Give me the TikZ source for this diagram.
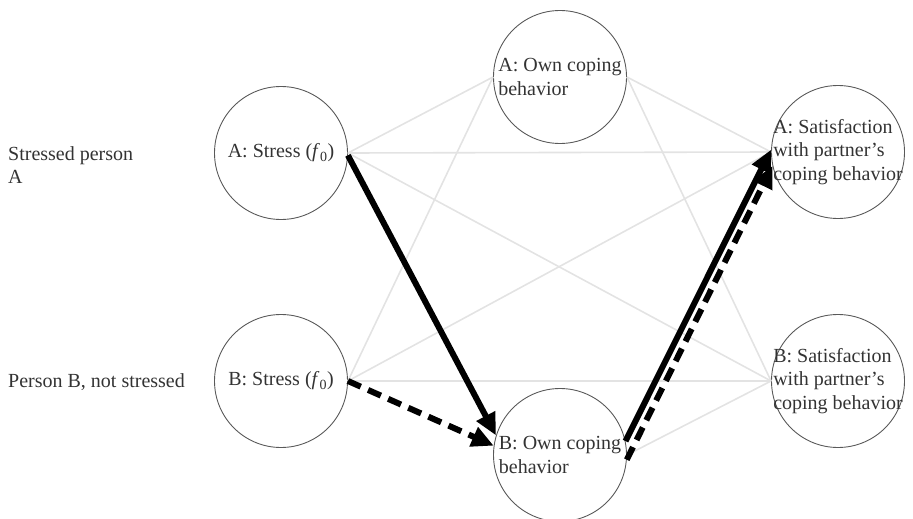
\documentclass[tikz,border=0pt]{standalone}
\usepackage{fontspec}
\setmainfont{Liberation Serif}
\usetikzlibrary{arrows.meta}
\begin{document}
\begin{tikzpicture}[x=1pt,y=-1pt,
  circ/.style={circle,draw=black!65,line width=0.9pt,minimum size=133pt,inner sep=0pt},
  txt/.style={font=\fontsize{20}{23.5}\selectfont,text=black!80,align=left,inner sep=0pt},
  faint/.style={draw=black!11,line width=1.6pt},
  strong/.style={draw=black,line width=6pt,-{Triangle[length=22pt,width=20pt]}},
  strongdash/.style={strong,dash pattern=on 14pt off 8pt}]
\useasboundingbox (0,0) rectangle (913,519);
% circles
\node[circ] (as) at (281,153) {};
\node[circ] (bs) at (281,381) {};
\node[circ] (ao) at (560,77) {};
\node[circ] (bo) at (560,455) {};
\node[circ] (asat) at (838,152) {};
\node[circ] (bsat) at (838,381) {};
% texts
\node[txt] (ast) at (as) {A: Stress (\textit{f}\textsubscript{0})};
\node[txt] (bst) at (bs) {B: Stress (\textit{f}\textsubscript{0})};
\node[txt] (aot) at (ao) {A: Own coping\\behavior};
\node[txt] (bot) at (bo) {B: Own coping\\behavior};
\node[txt] (asatt) at (asat) {A: Satisfaction\\with partner’s\\coping behavior};
\node[txt] (bsatt) at (bsat) {B: Satisfaction\\with partner’s\\coping behavior};
\node[txt,anchor=west] (la) at (8,165) {Stressed person\\A};
\node[txt,anchor=west] (lb) at (8,382) {Person B, not stressed};
% faint connectors
\draw[faint] (as.east) -- (ao.west);
\draw[faint] (as.east) -- (asat.west);
\draw[faint] (as.east) -- (bsat.west);
\draw[faint] (bs.east) -- (ao.west);
\draw[faint] (bs.east) -- (asat.west);
\draw[faint] (bs.east) -- (bsat.west);
\draw[faint] (ao.east) -- (asat.west);
\draw[faint] (ao.east) -- (bsat.west);
\draw[faint] (bo.east) -- (bsat.west);
% strong connectors
\draw[strong] (as.-2) -- (bo.163);
\draw[strongdash] (bs.east) -- (bo.172);
\draw[strong] (bo.12) -- (asat.178);
\draw[strongdash] (bo.-4) -- (asat.192);
\end{tikzpicture}
\end{document}
